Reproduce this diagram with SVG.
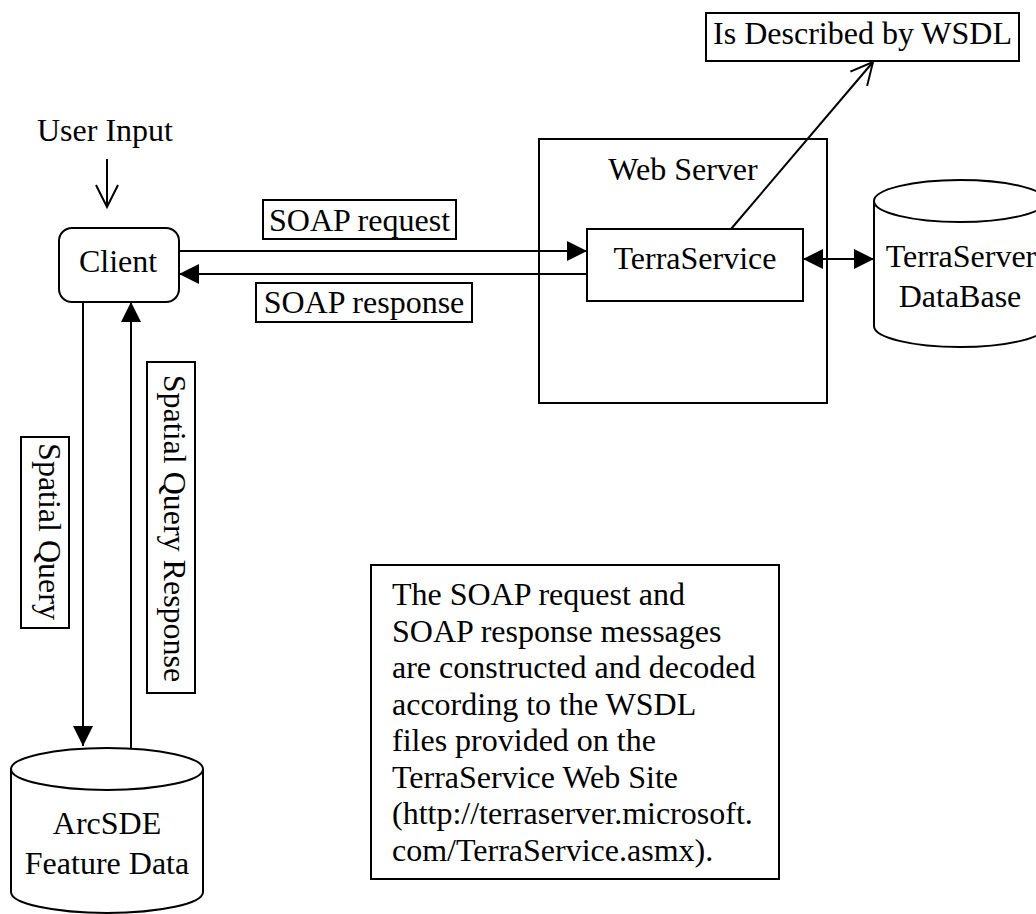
<svg xmlns="http://www.w3.org/2000/svg" width="1036" height="914" viewBox="0 0 1036 914">
<style>
.shape{fill:#fff;stroke:#000;stroke-width:2}
.line{fill:none;stroke:#000;stroke-width:2}
text{font-family:"Liberation Serif","Times New Roman",serif;font-size:32px;fill:#000}
.mid{text-anchor:middle}
</style>
<defs>
<marker id="solid" viewBox="0 0 20 20" refX="20" refY="10" markerWidth="20" markerHeight="20" markerUnits="userSpaceOnUse" orient="auto-start-reverse">
<path d="M0,0 L20,10 L0,20 Z" fill="#000"/>
</marker>
<marker id="open" viewBox="-2 -2 26 26" refX="22" refY="11" markerWidth="26" markerHeight="26" markerUnits="userSpaceOnUse" orient="auto">
<path d="M0,0 L22,11 L0,22" fill="none" stroke="#000" stroke-width="2"/>
</marker>
</defs>
<rect width="1036" height="914" fill="#fff"/>

<g id="user-input">
<text x="37" y="141">User Input</text>
</g>

<g id="client">
<rect class="shape" x="59" y="228" width="120" height="74" rx="13"/>
<text class="mid" x="118" y="272">Client</text>
</g>

<g id="web-server">
<rect class="shape" x="539" y="139" width="288" height="264"/>
<text class="mid" x="683" y="180">Web Server</text>
</g>

<g id="terraservice">
<rect class="shape" x="587" y="229" width="216" height="72"/>
<text class="mid" x="695" y="269">TerraService</text>
</g>

<g id="wsdl">
<rect class="shape" x="706" y="13" width="313" height="48"/>
<text class="mid" x="862.5" y="44">Is Described by WSDL</text>
</g>

<g id="terraserver-db">
<path class="shape" d="M874,201 A86,21 0 0 1 1046,201 L1046,326 A86,21 0 0 1 874,326 Z"/>
<path class="line" d="M874,201 A86,21 0 0 0 1046,201"/>
<text class="mid" x="961" y="267">TerraServer</text>
<text class="mid" x="960" y="307">DataBase</text>
</g>

<g id="arcsde">
<path class="shape" d="M11,769 A96,21 0 0 1 203,769 L203,892 A96,21 0 0 1 11,892 Z"/>
<path class="line" d="M11,769 A96,21 0 0 0 203,769"/>
<text class="mid" x="107" y="834">ArcSDE</text>
<text class="mid" x="107" y="874">Feature Data</text>
</g>

<g id="note">
<rect class="shape" x="371" y="565" width="408" height="314"/>
<text x="392" y="605">The SOAP request and</text>
<text x="392" y="641.5">SOAP response messages</text>
<text x="392" y="678">are constructed and decoded</text>
<text x="392" y="714.5">according to the WSDL</text>
<text x="392" y="751">files provided on the</text>
<text x="392" y="787.5">TerraService Web Site</text>
<text x="392" y="824">(http://terraserver.microsoft.</text>
<text x="392" y="860.5">com/TerraService.asmx).</text>
</g>

<g id="connectors">
<line class="line" x1="107" y1="159" x2="107" y2="207" marker-end="url(#open)"/>
<line class="line" x1="179" y1="251" x2="587" y2="251" marker-end="url(#solid)"/>
<line class="line" x1="587" y1="274" x2="179" y2="274" marker-end="url(#solid)"/>
<line class="line" x1="803" y1="259" x2="874" y2="259" marker-start="url(#solid)" marker-end="url(#solid)"/>
<line class="line" x1="731" y1="229" x2="873" y2="62" marker-end="url(#open)"/>
<line class="line" x1="83" y1="302" x2="83" y2="746" marker-end="url(#solid)"/>
<line class="line" x1="131" y1="748" x2="131" y2="302" marker-end="url(#solid)"/>
</g>

<g id="labels">
<g id="label-soap-request">
<rect class="shape" x="263" y="200" width="193" height="39"/>
<text class="mid" x="359.5" y="231">SOAP request</text>
</g>
<g id="label-soap-response">
<rect class="shape" x="256" y="283" width="216" height="39"/>
<text class="mid" x="364" y="313">SOAP response</text>
</g>
<g id="label-spatial-query">
<rect class="shape" x="21" y="437" width="48" height="191"/>
<text class="mid" x="39" y="531.5" transform="rotate(90 39 531.5)">Spatial Query</text>
</g>
<g id="label-spatial-query-response">
<rect class="shape" x="147" y="362" width="48" height="331"/>
<text class="mid" x="164" y="528.5" transform="rotate(90 164 528.5)">Spatial Query Response</text>
</g>
</g>
</svg>
